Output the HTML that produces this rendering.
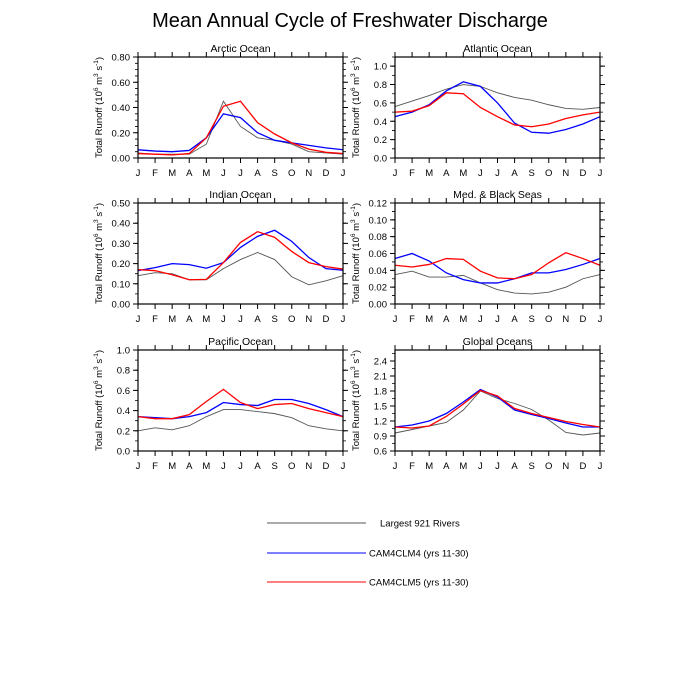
<!DOCTYPE html>
<html><head><meta charset="utf-8"><style>
html,body{margin:0;padding:0;background:#fff;}
svg{display:block;font-family:"Liberation Sans",sans-serif;}
</style></head><body>
<svg id="chart" width="700" height="700" viewBox="0 0 700 700" xmlns="http://www.w3.org/2000/svg">
<rect width="700" height="700" fill="#fff"/>
<text x="350" y="27" text-anchor="middle" font-size="20">Mean Annual Cycle of Freshwater Discharge</text>
<g>
<line x1="267" y1="523" x2="366" y2="523" stroke="#555" stroke-width="1"/>
<text x="380" y="526.5" font-size="9.5">Largest 921 Rivers</text>
<line x1="267" y1="553" x2="366" y2="553" stroke="#0000ff" stroke-width="1"/>
<text x="369" y="556.5" font-size="9.5">CAM4CLM4 (yrs 11-30)</text>
<line x1="267" y1="582" x2="366" y2="582" stroke="#ff0000" stroke-width="1"/>
<text x="369" y="585.5" font-size="9.5">CAM4CLM5 (yrs 11-30)</text>
</g>
</svg>
<script>
const months = ["J","F","M","A","M","J","J","A","S","O","N","D","J"];
const panelTitles = ["Arctic Ocean","Atlantic Ocean","Indian Ocean","Med. & Black Seas","Pacific Ocean","Global Oceans"];
const yMins = [0, 0, 0, 0, 0, 0.6];
const yMaxs = [0.8, 1.1, 0.5, 0.12, 1.0, 2.62];
const yTickLabels = [
  ["0.00","0.20","0.40","0.60","0.80"],
  ["0.0","0.2","0.4","0.6","0.8","1.0"],
  ["0.00","0.10","0.20","0.30","0.40","0.50"],
  ["0.00","0.02","0.04","0.06","0.08","0.10","0.12"],
  ["0.0","0.2","0.4","0.6","0.8","1.0"],
  ["0.6","0.9","1.2","1.5","1.8","2.1","2.4"]
];
const yMinorSteps = [0.05, 0.1, 0.05, 0.01, 0.1, 0.15];
const riversData = [
  [0.04,0.03,0.03,0.03,0.11,0.45,0.25,0.16,0.14,0.11,0.05,0.04,0.03],
  [0.56,0.62,0.68,0.75,0.80,0.78,0.71,0.66,0.63,0.58,0.54,0.53,0.55],
  [0.14,0.155,0.15,0.12,0.12,0.175,0.22,0.255,0.22,0.135,0.095,0.115,0.14],
  [0.035,0.039,0.032,0.032,0.034,0.025,0.017,0.013,0.012,0.014,0.02,0.03,0.035],
  [0.20,0.23,0.21,0.25,0.34,0.41,0.41,0.39,0.37,0.33,0.25,0.22,0.20],
  [0.96,1.03,1.10,1.17,1.42,1.80,1.65,1.55,1.43,1.22,0.97,0.92,0.96]
];
const clm4Data = [
  [0.065,0.055,0.05,0.06,0.16,0.35,0.32,0.20,0.14,0.12,0.10,0.08,0.065],
  [0.45,0.50,0.58,0.73,0.83,0.78,0.60,0.38,0.28,0.27,0.31,0.37,0.45],
  [0.165,0.18,0.20,0.195,0.177,0.205,0.28,0.335,0.365,0.31,0.23,0.175,0.167],
  [0.054,0.060,0.051,0.037,0.029,0.025,0.025,0.030,0.037,0.037,0.041,0.047,0.054],
  [0.34,0.33,0.32,0.34,0.38,0.48,0.46,0.45,0.51,0.51,0.47,0.41,0.34],
  [1.08,1.12,1.20,1.35,1.58,1.83,1.68,1.42,1.33,1.25,1.16,1.08,1.08]
];
const clm5Data = [
  [0.035,0.03,0.025,0.035,0.16,0.41,0.45,0.28,0.19,0.12,0.07,0.045,0.035],
  [0.50,0.51,0.57,0.71,0.70,0.55,0.45,0.36,0.34,0.37,0.43,0.47,0.50],
  [0.17,0.165,0.145,0.12,0.122,0.205,0.305,0.358,0.33,0.26,0.205,0.185,0.173],
  [0.046,0.044,0.047,0.054,0.053,0.039,0.031,0.030,0.035,0.049,0.061,0.054,0.046],
  [0.34,0.32,0.32,0.36,0.49,0.61,0.48,0.42,0.46,0.47,0.42,0.38,0.34],
  [1.08,1.06,1.10,1.29,1.54,1.81,1.70,1.45,1.35,1.27,1.19,1.13,1.08]
];

const NS = "http://www.w3.org/2000/svg";
const svg = document.getElementById("chart");
function mk(tag, attrs, parent){
  const e = document.createElementNS(NS, tag);
  for (const k in attrs) e.setAttribute(k, attrs[k]);
  parent.appendChild(e);
  return e;
}
const lefts = [138, 395];
const tops = [57, 203, 350];
const W = 205, H = 101;
function slug(s){return s.toLowerCase().replace(/[^a-z]+/g,"-").replace(/-+$/,"");}

for (let p = 0; p < 6; p++) {
  const L = lefts[p % 2], T = tops[Math.floor(p / 2)];
  const B = T + H, R = L + W;
  const ymin = yMins[p], ymax = yMaxs[p];
  const xs = i => L + i * W / 12;
  const ys = v => B - (v - ymin) / (ymax - ymin) * H;
  const g = mk("g", {}, svg);
  
  

  const t = mk("text", {x: L + W / 2, y: T - 5, "text-anchor": "middle", "font-size": "10.5"}, g);
  t.textContent = panelTitles[p];
  
  

  // x ticks
  for (let i = 0; i < 13; i++) {
    const x = xs(i);
    const tk = mk("path", {d: `M${x},${B}v5M${x},${T}v-5`, stroke: "#000", "stroke-width": "1"}, g);
    
    
    const lb = mk("text", {x: x, y: B + 18, "text-anchor": "middle", "font-size": "9.5"}, g);
    lb.textContent = months[i];
    
    
  }
  // y minor ticks
  const ms = yMinorSteps[p];
  for (let v = ymin; v <= ymax + 1e-9; v += ms) {
    const y = ys(v);
    const mt = mk("path", {d: `M${L},${y}h-3M${R},${y}h3`, stroke: "#000", "stroke-width": "0.8"}, g);
    
    
  }
  // y major ticks
  const labs = yTickLabels[p];
  for (let k = 0; k < labs.length; k++) {
    const v = parseFloat(labs[k]);
    const y = ys(v);
    const yt = mk("path", {d: `M${L},${y}h-5M${R},${y}h5`, stroke: "#000", "stroke-width": "1"}, g);
    
    
    const yl = mk("text", {x: L - 8, y: y + 3.5, "text-anchor": "end", "font-size": "9.5"}, g);
    yl.textContent = labs[k];
    
    
  }
  // y title
  const yc = T + H / 2, xt = L - 36;
  const ttl = mk("text", {x: xt, y: yc, "text-anchor": "middle", "font-size": "9.5", transform: `rotate(-90 ${xt} ${yc})`}, g);
  ttl.innerHTML = 'Total Runoff (10<tspan dy="-4" font-size="6.5">6</tspan><tspan dy="4"> m</tspan><tspan dy="-4" font-size="6.5">3</tspan><tspan dy="4"> s</tspan><tspan dy="-4" font-size="6.5">-1</tspan><tspan dy="4">)</tspan>';
  
  

  // series
  const series = [[riversData[p], "#555", "rivers"], [clm4Data[p], "#0000ff", "clm4"], [clm5Data[p], "#ff0000", "clm5"]];
  for (const [d, c, n] of series) {
    const pts = d.map((v, i) => xs(i).toFixed(2) + "," + ys(v).toFixed(2)).join(" ");
    const ln = mk("polyline", {points: pts, fill: "none", stroke: c, "stroke-width": n === "rivers" ? "0.9" : "1.3"}, g);
    
    
  }
  const fr = mk("rect", {x: L, y: T, width: W, height: H, fill: "none", stroke: "#000", "stroke-width": "1.2"}, g);
  
  
}
</script>
</body></html>
